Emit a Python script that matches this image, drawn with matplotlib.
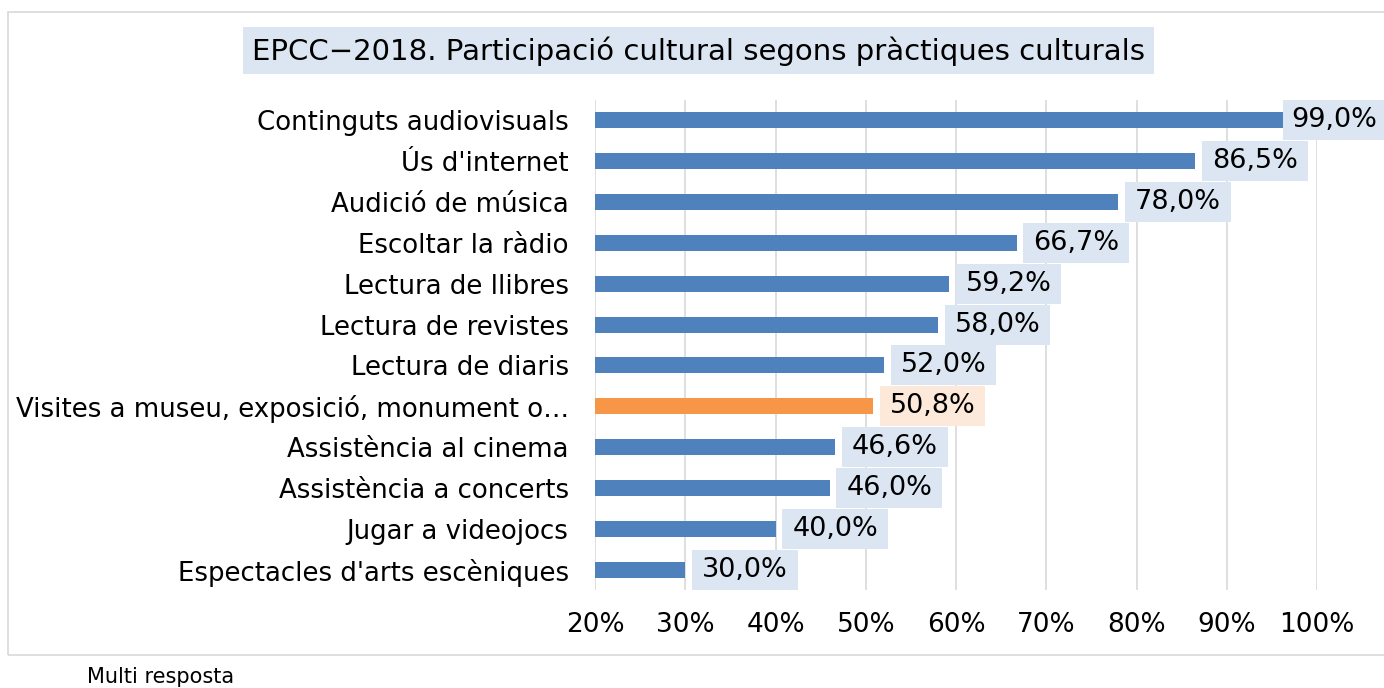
import matplotlib.pyplot as plt
from matplotlib.patches import Rectangle
from matplotlib.transforms import IdentityTransform

categories = ["Continguts audiovisuals", "Ús d'internet", "Audició de música",
              "Escoltar la ràdio", "Lectura de llibres", "Lectura de revistes",
              "Lectura de diaris", "Visites a museu, exposició, monument o…",
              "Assistència al cinema", "Assistència a concerts",
              "Jugar a videojocs", "Espectacles d'arts escèniques"]
values = [99.0, 86.5, 78.0, 66.7, 59.2, 58.0, 52.0, 50.8, 46.6, 46.0, 40.0, 30.0]
highlight = "Visites a museu, exposició, monument o…"
xticks = [20, 30, 40, 50, 60, 70, 80, 90, 100]

blue, orange = "#4F81BD", "#F79646"
blue_bg, orange_bg = "#DCE6F2", "#FDE9D9"

plt.rcParams['font.family'] = ['DejaVu Sans']
fig = plt.figure(figsize=(13.84, 6.88), dpi=100)
ax = fig.add_axes([0.43, 0.1424, 0.5216, 0.7123])

y = list(range(len(categories)))
colors = [orange if c == highlight else blue for c in categories]
ax.barh(y, [v - 20 for v in values], left=20, height=0.39, color=colors, zorder=3)

labels = []
for yi, v, c in zip(y, values, categories):
    bg = orange_bg if c == highlight else blue_bg
    txt = f"{v:.1f}%".replace(".", ",")
    if v > 95:
        # no room on the right, pull the label back inside the chart frame
        t = ax.annotate(txt, (1377, yi), xycoords=('figure pixels', 'data'),
                        va="center", ha="right", fontsize=19.5, zorder=5)
    else:
        t = ax.annotate(txt, (v, yi), xytext=(12, 0), textcoords="offset points",
                        va="center", ha="left", fontsize=19.5, zorder=5)
    labels.append((t, yi, bg, v))

ax.set_xlim(20, 100)
ax.set_ylim(len(categories) - 0.5, -0.5)
ax.set_xticks(xticks)
ax.set_xticklabels([f"{t}%" for t in xticks], fontsize=19)
ax.set_yticks(y)
ax.set_yticklabels(categories, fontsize=18.7)
ax.tick_params(axis='both', length=0)
ax.tick_params(axis='x', pad=16)
ax.tick_params(axis='y', pad=19)
ax.grid(axis='x', color='#D9D9D9', linewidth=1.2, zorder=0)
for s in ax.spines.values():
    s.set_visible(False)

# label backgrounds: about 40 px tall, 10 px side padding
fig.canvas.draw()
r = fig.canvas.get_renderer()
for t, yi, bg, v in labels:
    bb = t.get_window_extent(r)
    yc = ax.transData.transform((0, yi))[1]
    x0 = bb.x0 - (8 if v > 95 else 10)
    w = (1400 - x0) if v > 95 else bb.width + 20
    ax.add_patch(Rectangle((x0, yc - 20), w, 40, transform=IdentityTransform(),
                           fc=bg, ec="none", clip_on=False, zorder=4))

fig.text(0.5047, 0.926, "EPCC−2018. Participació cultural segons pràctiques culturals",
         ha='center', va='center', fontsize=21,
         bbox=dict(boxstyle="square,pad=0.3", fc=blue_bg, ec="none"))
fig.patches.append(Rectangle((8 / 1384, 1 - 655 / 688), 1.2, (655 - 12) / 688,
                             transform=fig.transFigure, fill=False,
                             ec='#D9D9D9', lw=1.2))
fig.text(87 / 1384, 1 - 677 / 688, "Multi resposta", ha='left', va='center', fontsize=15)

plt.savefig("out.png", dpi=100)
